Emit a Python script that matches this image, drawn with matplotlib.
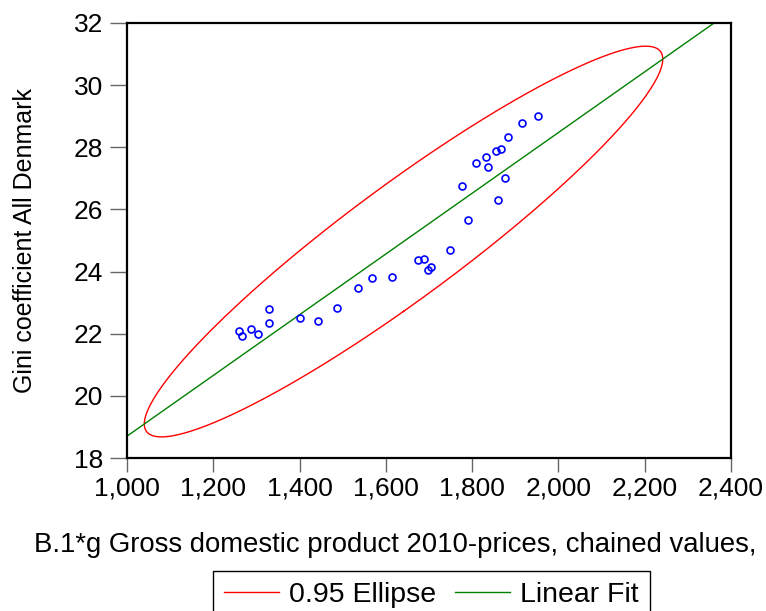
import numpy as np
import matplotlib
matplotlib.use('Agg')
import matplotlib.pyplot as plt
from matplotlib.ticker import FuncFormatter

plt.rcParams['font.family'] = ['Liberation Sans', 'DejaVu Sans']

# GDP (2010 prices, chained) vs Gini coefficient, Denmark
gdp = [1259.6, 1266.5, 1287.4, 1303.6, 1329.1, 1329.1, 1400.9, 1442.6, 1486.7, 1535.3,
       1567.8, 1614.8, 1675.1, 1689.0, 1696.9, 1704.5, 1748.6, 1775.7, 1789.6, 1808.8,
       1832.7, 1837.3, 1854.5, 1859.1, 1866.7, 1876.0, 1883.7, 1914.7, 1952.5]
gini = [22.09, 21.93, 22.15, 21.99, 22.80, 22.34, 22.51, 22.41, 22.83, 23.47,
        23.80, 23.82, 24.38, 24.40, 24.04, 24.15, 24.68, 26.74, 25.67, 27.48,
        27.68, 27.37, 27.89, 26.29, 27.95, 27.02, 28.33, 28.79, 29.02]

x_ticks = [1000, 1200, 1400, 1600, 1800, 2000, 2200, 2400]
y_ticks = [18, 20, 22, 24, 26, 28, 30, 32]

x = np.array(gdp)
y = np.array(gini)
n = len(x)

fig = plt.figure(figsize=(7.66, 6.11), dpi=100)
ax = fig.add_axes([0.1658, 0.2504, 0.7885, 0.712])

# 95% ellipse from sample mean/covariance, F(2, n-2) scaling
mu = np.array([x.mean(), y.mean()])
cov = np.cov(x, y)
c = (n - 1) * (0.05 ** (-2.0 / (n - 2)) - 1)
vals, vecs = np.linalg.eigh(cov)
t = np.linspace(0, 2 * np.pi, 400)
circle = np.vstack([np.cos(t), np.sin(t)])
pts = vecs @ (np.sqrt(vals * c)[:, None] * circle) + mu[:, None]
ax.plot(pts[0], pts[1], color='#ff0000', lw=1.0, label='0.95 Ellipse')

# least squares line
b, a = np.polyfit(x, y, 1)
xl = np.array([900, 2500])
ax.plot(xl, a + b * xl, color='#008000', lw=1.0, label='Linear Fit')

ax.plot(x, y, 'o', mfc='none', mec='#0000ff', ms=5, mew=1.2, zorder=3)

ax.set_xlim(1000, 2400)
ax.set_ylim(18, 32)
ax.set_xticks(x_ticks)
ax.set_yticks(y_ticks)
ax.xaxis.set_major_formatter(FuncFormatter(lambda v, p: f'{int(v):,}'))
ax.tick_params(labelsize=19, direction='out', length=10, width=1, color='#666666', pad=3)
ax.tick_params(axis='y', length=12, pad=5)
for s in ax.spines.values():
    s.set_linewidth(1.6)

fig.text(0.033, 0.607, 'Gini coefficient All Denmark', rotation=90, fontsize=18,
         ha='center', va='center')
fig.text(0.044, 0.108, 'B.1*g Gross domestic product 2010-prices, chained values,',
         fontsize=19.8, ha='left', va='center')

fig.legend(loc='upper center', bbox_to_anchor=(0.5633, 0.0655), ncol=2, fontsize=20.5,
           frameon=True, fancybox=False, edgecolor='black', framealpha=1,
           handlelength=1.93, borderpad=0.4, columnspacing=0.67, handletextpad=0.35,
           borderaxespad=0)

fig.savefig('out.png', dpi=100)
